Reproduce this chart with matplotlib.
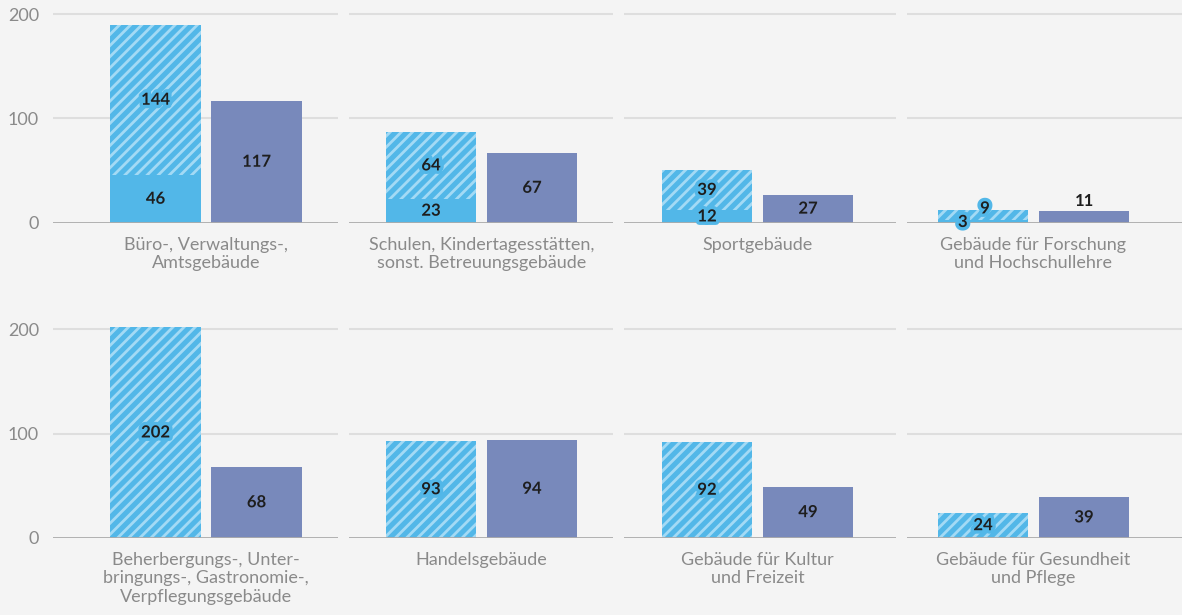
import matplotlib
matplotlib.use("Agg")
import matplotlib.pyplot as plt
import matplotlib.patheffects as pe

# ---------------- data ----------------
categories = [
    "Büro-, Verwaltungs-,\nAmtsgebäude",
    "Schulen, Kindertagesstätten,\nsonst. Betreuungsgebäude",
    "Sportgebäude",
    "Gebäude für Forschung\nund Hochschullehre",
    "Beherbergungs-, Unter-\nbringungs-, Gastronomie-,\nVerpflegungsgebäude",
    "Handelsgebäude",
    "Gebäude für Kultur\nund Freizeit",
    "Gebäude für Gesundheit\nund Pflege",
]
solid_part = [46, 23, 12, 3, 0, 0, 0, 0]
hatched_part = [144, 64, 39, 9, 202, 93, 92, 24]
second_bar = [117, 67, 27, 11, 68, 94, 49, 39]
y_ticks = [0, 100, 200]

# ---------------- style ----------------
BG = "#f4f4f4"
LIGHT = "#52b7e8"
STRIPE = "#a3daf5"
SLATE = "#7889bb"
GRID = "#dedede"
BASE = "#ababab"
TXT = "#8a8a8a"
DARK = "#1e1e1e"
FONT = ["Lato", "DejaVu Sans"]

plt.rcParams["hatch.linewidth"] = 2.0
plt.rcParams["hatch.color"] = STRIPE

W, H = 1182, 615
fig = plt.figure(figsize=(W / 100, H / 100), dpi=100)
fig.patch.set_facecolor(BG)

panel_x = [(53, 338), (349, 613), (624, 896), (907, 1182)]
group_cx = [206, 481.5, 757.5, 1033.5]
baseline_y = [222.7, 537.7]
px_per_unit = 1.042
ymax = 210
unit_px = 101.0
bar_w = 0.9

for i in range(8):
    r, c = divmod(i, 4)
    x0, x1 = panel_x[c]
    by = baseline_y[r]
    hpx = ymax * px_per_unit
    ax = fig.add_axes([x0 / W, (H - by) / H, (x1 - x0) / W, hpx / H])
    ax.set_facecolor("none")
    for s in ax.spines.values():
        s.set_visible(False)
    cx = group_cx[c]
    ax.set_xlim(0.5 - (cx - x0) / unit_px, 0.5 + (x1 - cx) / unit_px)
    ax.set_ylim(0, ymax)

    for g in (100, 200):
        ax.axhline(g, color=GRID, lw=1.5, zorder=0)
    ax.axhline(0, color=BASE, lw=1.3, zorder=3)

    s_val, h_val, b_val = solid_part[i], hatched_part[i], second_bar[i]
    ax.bar(0, s_val, width=bar_w, color=LIGHT, lw=0, zorder=2)
    ax.bar(0, h_val, bottom=s_val, width=bar_w, color=LIGHT, hatch="///",
           edgecolor=STRIPE, lw=0, zorder=2, clip_on=False)
    ax.bar(1, b_val, width=bar_w, color=SLATE, lw=0, zorder=2)

    halo_l = [pe.Stroke(linewidth=5, foreground=LIGHT), pe.Normal()]
    halo_s = [pe.Stroke(linewidth=5, foreground=SLATE), pe.Normal()]
    lab_kw = dict(ha="center", va="center", fontsize=12, fontweight="bold",
                  color=DARK, family=FONT, zorder=5)
    s_center = s_val / 2
    h_center = s_val + h_val / 2
    s_x, h_x = 0, 0
    if s_val > 0:
        if h_center - s_center < 12:
            s_x, h_x = -0.2, 0.02
            s_center = s_center - 0.8
            h_center = s_center + 13
        ax.text(s_x, s_center, str(s_val), path_effects=halo_l, **lab_kw)
    ax.text(h_x, h_center, str(h_val), path_effects=halo_l, **lab_kw)
    if b_val < 15:
        ax.text(1, b_val + 10, str(b_val), **lab_kw)
    else:
        ax.text(1, b_val / 2, str(b_val), path_effects=halo_s, **lab_kw)

    ax.annotate(categories[i], xy=(0.5, 0), xycoords="data",
                xytext=(0, -10), textcoords="offset points",
                ha="center", va="top", fontsize=13, color=TXT,
                family=FONT, fontweight="normal", linespacing=1.2,
                annotation_clip=False)

    ax.tick_params(length=0)
    ax.set_xticks([])
    if c == 0:
        ax.set_yticks(y_ticks)
        ax.set_yticklabels([str(t) for t in y_ticks], color=TXT, fontsize=13,
                           family=FONT, fontweight="normal")
        ax.tick_params(axis="y", pad=10)
    else:
        ax.set_yticks([])

fig.savefig("out.png", dpi=100, facecolor=BG)
